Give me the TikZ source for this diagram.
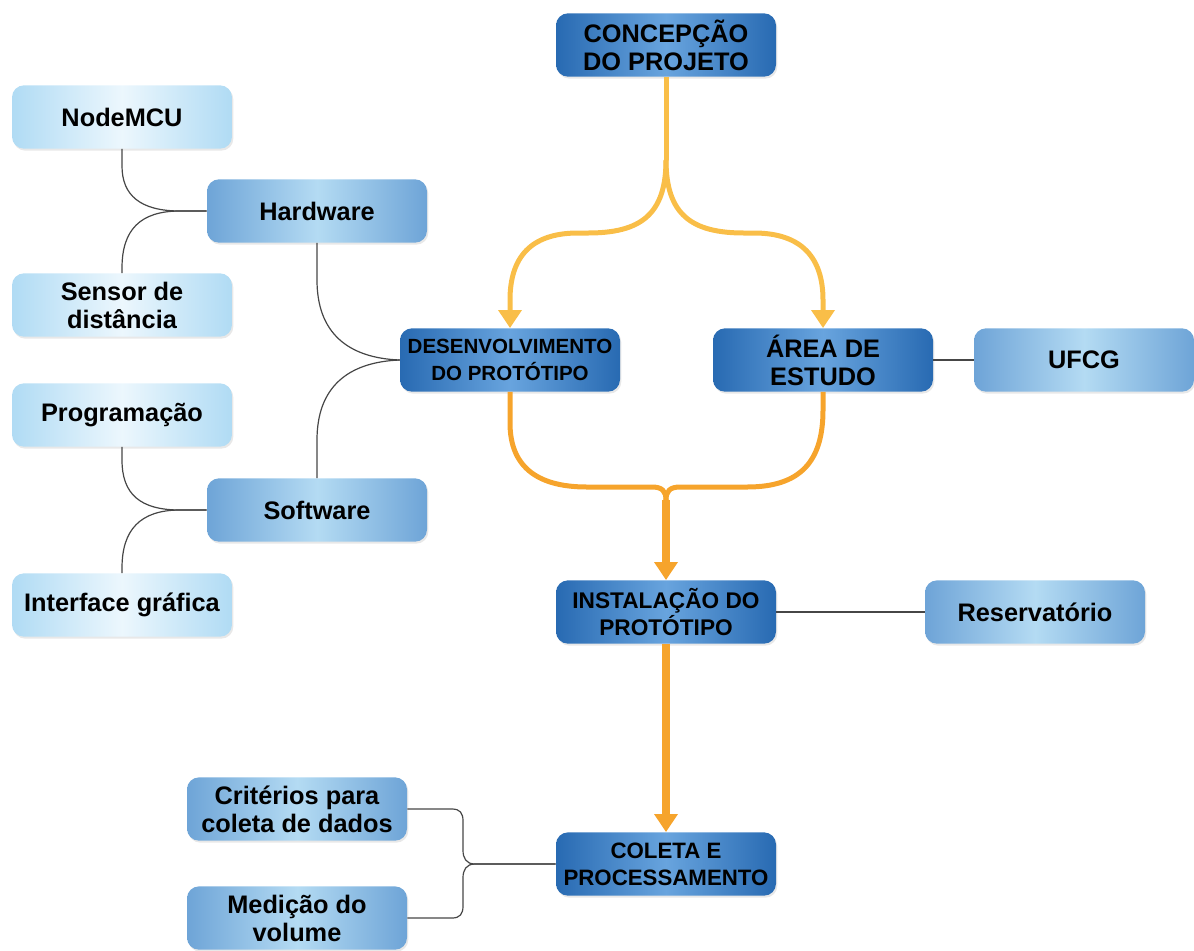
\documentclass[tikz,border=0pt]{standalone}
\usepackage{fontspec}
\setmainfont{Liberation Sans}
\usetikzlibrary{arrows.meta,shadows}

\definecolor{maindark}{RGB}{40,106,178}
\definecolor{mainlight}{RGB}{104,164,222}
\definecolor{middark}{RGB}{110,164,215}
\definecolor{midlight}{RGB}{180,219,243}
\definecolor{leafdark}{RGB}{176,219,244}
\definecolor{leaflight}{RGB}{236,247,253}
\definecolor{flowtop}{RGB}{249,190,72}
\definecolor{flowbot}{RGB}{246,164,44}
\definecolor{linkgray}{RGB}{70,70,70}

\begin{document}
\begin{tikzpicture}[x=0.75pt, y=-0.75pt,
    box/.style={rounded corners=9pt, minimum width=165pt, minimum height=47.5pt,
        inner sep=2pt, align=center, font=\bfseries\fontsize{19}{21}\selectfont,
        drop shadow={opacity=0.18, shadow xshift=1pt, shadow yshift=-1.5pt}},
    mainbox/.style={box, left color=maindark, right color=maindark, middle color=mainlight},
    midbox/.style={box, left color=middark, right color=middark, middle color=midlight},
    leafbox/.style={box, left color=leafdark, right color=leafdark, middle color=leaflight},
    flowup/.style={line width=3.75pt, flowtop},
    flowdown/.style={line width=3.75pt, flowbot},
    flowstem/.style={line width=6.5pt, flowbot},
    tip/.style={-{Triangle[width=17pt,length=13.5pt]}},
    link/.style={line width=0.9pt, linkgray}]
    \useasboundingbox (0,0) rectangle (1194,950);

    \node[mainbox] (concep) at (666,45) {CONCEPÇÃO\\DO PROJETO};
    \node[mainbox, font=\bfseries\fontsize{15.4}{20}\selectfont] (desenv) at (510,360) {DESENVOLVIMENTO\\DO PROTÓTIPO};
    \node[mainbox] (area) at (823,360) {ÁREA DE\\ESTUDO};
    \node[mainbox, font=\bfseries\fontsize{17}{20.5}\selectfont] (inst) at (666,612) {INSTALAÇÃO DO\\PROTÓTIPO};
    \node[mainbox, font=\bfseries\fontsize{16.7}{20.5}\selectfont] (coleta) at (666,864) {COLETA E\\PROCESSAMENTO};

    \node[midbox] (hw) at (317,211) {Hardware};
    \node[midbox] (sw) at (317,510) {Software};
    \node[midbox] (ufcg) at (1084,360) {UFCG};
    \node[midbox] (res) at (1035,612) {Reservatório};
    \node[midbox] (crit) at (297,809) {Critérios para\\coleta de dados};
    \node[midbox] (medicao) at (297,918) {Medição do\\volume};

    \node[leafbox] (nodemcu) at (122,117) {NodeMCU};
    \node[leafbox] (sensor) at (122,305) {Sensor de\\distância};
    \node[leafbox] (prog) at (122,415) {Programação};
    \node[leafbox] (interf) at (122,605) {Interface gráfica};

    \coordinate (split) at (666,160);
    \coordinate (join) at (666,500);

    \draw[flowup] (concep.south) -- (split);
    \draw[flowup, tip] (split) .. controls (666,215) and (640,233) .. (588,233) -- (578,233)
        .. controls (530,233) and (510,258) .. (510,300) -- (desenv.north);
    \draw[flowup, tip] (split) .. controls (666,215) and (692,233) .. (744,233) -- (754,233)
        .. controls (802,233) and (823,258) .. (823,300) -- (area.north);

    \draw[flowdown] (desenv.south) -- (510,423) .. controls (510,465) and (535,487) .. (587,487)
        -- (652,487) .. controls (662,487) and (666,491) .. (join);
    \draw[flowdown] (area.south) -- (823,410) .. controls (823,462) and (800,487) .. (747,487)
        -- (680,487) .. controls (670,487) and (666,491) .. (join);
    \draw[flowstem, tip] (join) -- (inst.north);
    \draw[flowstem, tip] (inst.south) -- (coleta.north);

    \draw[link] (hw.west) -- (180,211) .. controls (140,211) and (122,195) .. (122,166) -- (nodemcu.south);
    \draw[link] (hw.west) -- (180,211) .. controls (140,211) and (122,230) .. (122,268) -- (sensor.north);
    \draw[link] (hw.south) -- (317,280) .. controls (317,333) and (348,358) .. (desenv.west);
    \draw[link] (sw.north) -- (317,440) .. controls (317,387) and (348,362) .. (desenv.west);
    \draw[link] (sw.west) -- (180,510) .. controls (140,510) and (122,494) .. (122,460) -- (prog.south);
    \draw[link] (sw.west) -- (180,510) .. controls (140,510) and (122,530) .. (122,568) -- (interf.north);
    \draw[link] (area.east) -- (ufcg.west);
    \draw[link] (inst.east) -- (res.west);
    \draw[link] (coleta.west) -- (475,864) .. controls (466,864) and (463,858) .. (463,850)
        -- (463,821) .. controls (463,813) and (460,809) .. (452,809) -- (crit.east);
    \draw[link] (coleta.west) -- (475,864) .. controls (466,864) and (463,870) .. (463,878)
        -- (463,906) .. controls (463,914) and (460,918) .. (452,918) -- (medicao.east);
\end{tikzpicture}
\end{document}
